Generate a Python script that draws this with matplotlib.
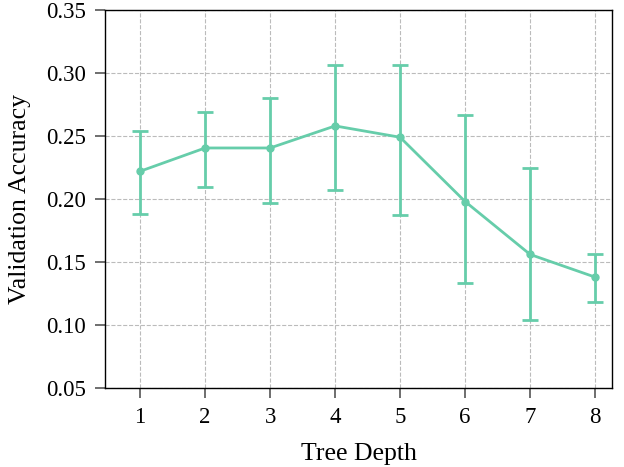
import matplotlib
matplotlib.use("Agg")
import matplotlib.pyplot as plt
import numpy as np

depths = [1, 2, 3, 4, 5, 6, 7, 8]
mean_acc = [0.222, 0.2405, 0.2405, 0.258, 0.249, 0.198, 0.156, 0.138]
upper_acc = [0.254, 0.269, 0.280, 0.306, 0.306, 0.267, 0.225, 0.156]
lower_acc = [0.188, 0.2095, 0.197, 0.207, 0.187, 0.133, 0.104, 0.118]
yticks = [0.05, 0.10, 0.15, 0.20, 0.25, 0.30, 0.35]

plt.rcParams['font.family'] = ['Liberation Serif', 'DejaVu Serif']

fig = plt.figure(figsize=(6.24, 4.67), dpi=100)
ax = fig.add_axes([105/624, 1-388/467, (612-105)/624, (388-10)/467])

m = np.array(mean_acc)
yerr = np.vstack([m - np.array(lower_acc), np.array(upper_acc) - m])
color = '#66cdaa'
ax.errorbar(depths, mean_acc, yerr=yerr, color=color, lw=2, marker='o', ms=5,
            capsize=6, capthick=2, elinewidth=2)

ax.set_xlim(0.46, 8.26)
ax.set_ylim(0.05, 0.35)
ax.set_yticks(yticks)
ax.set_yticklabels([f"{v:.2f}" for v in yticks])
ax.set_xticks(depths)
ax.grid(True, linestyle='--', color='#bbbbbb', lw=0.8)
ax.set_axisbelow(True)
ax.tick_params(axis='both', labelsize=16.5, length=7, width=1.2, color='#555555', direction='out', pad=7)
ax.set_xlabel('Tree Depth', fontsize=18.5, labelpad=10.5)
ax.set_ylabel('Validation Accuracy', fontsize=18.5, labelpad=10.5)
for s in ax.spines.values():
    s.set_color('black')
    s.set_linewidth(1)

fig.savefig('out.png', dpi=100)
